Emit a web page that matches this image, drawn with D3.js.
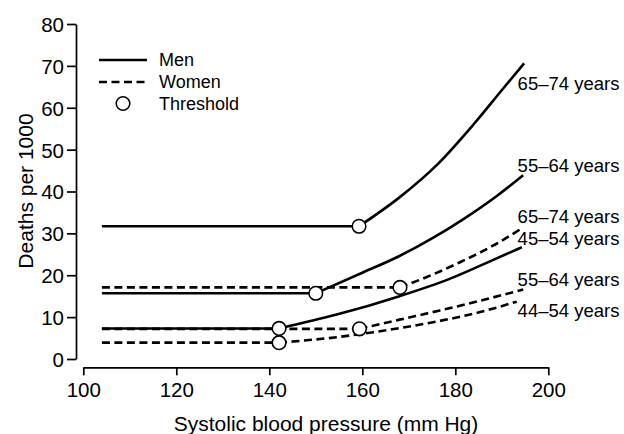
<!DOCTYPE html>
<html>
<head>
<meta charset="utf-8">
<script src="https://cdn.jsdelivr.net/npm/d3@7"></script>
<style>
  body { margin: 0; background: #fff; }
  svg { display: block; font-family: "Liberation Sans", Arial, sans-serif; }
  .axis path, .axis line { stroke: #000; stroke-width: 1.7; }
  .axis text { fill: #000; font-size: 20.5px; }
  .label { font-size: 18.5px; fill: #000; }
  .legend-text { font-size: 18px; fill: #000; }
</style>
</head>
<body>
<svg id="chart" width="624" height="434"></svg>
<script>
// ---- data ----
const xTicks = [100, 120, 140, 160, 180, 200];
const yTicks = [0, 10, 20, 30, 40, 50, 60, 70, 80];
const startBP = 104;

// curves: first point is the threshold, line is flat before it
const men6574 = [[159.3, 31.7], [168.0, 38.6], [176.0, 46.3], [183.9, 56.0], [190.3, 64.6], [194.8, 70.6]];
const men5564 = [[150.0, 15.7], [160.0, 20.6], [168.0, 24.6], [175.0, 28.8], [182.0, 33.6], [189.0, 39.0], [194.6, 43.9]];
const men4554 = [[142.1, 7.3], [154.5, 10.6], [168.0, 15.0], [178.9, 19.2], [186.0, 22.6], [194.3, 26.7]];
const women6574 = [[168.1, 17.1], [175.0, 20.1], [181.0, 23.1], [188.0, 27.0], [194.3, 31.2]];
const women5564 = [[159.4, 7.2], [168.0, 9.4], [176.7, 11.6], [185.3, 13.9], [194.6, 16.6]];
const women4554 = [[142.1, 3.9], [155.2, 5.3], [162.4, 6.4], [176.7, 9.1], [185.3, 11.2], [193.2, 13.7]];

const seriesNames = ["65–74 years", "55–64 years", "45–54 years", "65–74 years", "55–64 years", "44–54 years"];
const seriesSex = ["men", "men", "men", "women", "women", "women"];
const seriesPoints = [men6574, men5564, men4554, women6574, women5564, women4554];
const labelValues = [64.2, 44.7, 27.2, 32.4, 17.4, 10.1]; // where the end labels sit (deaths)
const labelBP = 193.4;

const legendNames = ["Men", "Women", "Threshold"];

// ---- scales ----
const svg = d3.select("#chart");
const x = d3.scaleLinear().domain([100, 200]).range([83.3, 548.3]);
const y = d3.scaleLinear().domain([0, 80]).range([359, 24]);

// axes
svg.append("g")
  .attr("class", "axis")
  .attr("transform", "translate(76,0)")
  .call(d3.axisLeft(y).tickValues(yTicks).tickSize(9).tickSizeOuter(0).tickPadding(3))
  .call(g => g.selectAll("text").attr("dy", "0.36em"));

svg.append("g")
  .attr("class", "axis")
  .attr("transform", "translate(0,367.3)")
  .call(d3.axisBottom(x).tickValues(xTicks).tickSize(8).tickSizeOuter(0).tickPadding(7));

svg.selectAll(".axis .domain").attr("fill", "none");

// axis titles
svg.append("text")
  .attr("x", 326)
  .attr("y", 431)
  .attr("text-anchor", "middle")
  .attr("font-size", 21)
  .text("Systolic blood pressure (mm Hg)");

svg.append("text")
  .attr("transform", "translate(32.5,191) rotate(-90)")
  .attr("text-anchor", "middle")
  .attr("font-size", 21)
  .text("Deaths per 1000");

// lines
const flatLine = d3.line().x(d => x(d[0])).y(d => y(d[1]));
const curveLine = d3.line()
  .x(d => x(d[0]))
  .y(d => y(d[1]))
  .curve(d3.curveMonotoneX);

const dash = "8,4.5";

seriesPoints.forEach((pts, i) => {
  const thr = pts[0];
  const g = svg.append("g");
  const style = sel => sel
    .attr("fill", "none")
    .attr("stroke", "#000")
    .attr("stroke-width", 2.6)
    .attr("stroke-dasharray", seriesSex[i] === "women" ? dash : null);

  // flat part up to threshold
  g.append("path").attr("d", flatLine([[startBP, thr[1]], thr])).call(style);
  // rising part
  g.append("path").attr("d", curveLine(pts)).call(style);
});

// threshold markers
svg.append("g")
  .selectAll("circle")
  .data(seriesPoints.map(p => p[0]))
  .join("circle")
  .attr("cx", d => x(d[0]))
  .attr("cy", d => y(d[1]))
  .attr("r", 6.8)
  .attr("fill", "#fff")
  .attr("stroke", "#000")
  .attr("stroke-width", 1.6);

// end labels
svg.append("g")
  .selectAll("text")
  .data(seriesNames)
  .join("text")
  .attr("class", "label")
  .attr("x", x(labelBP))
  .attr("y", (d, i) => y(labelValues[i]))
  .text(d => d);

// legend
const legend = svg.append("g").attr("transform", "translate(99,60)");
legendNames.forEach((name, i) => {
  const row = legend.append("g").attr("transform", `translate(0,${i * 22})`);
  if (i < 2) {
    row.append("line")
      .attr("x1", 0).attr("x2", 48)
      .attr("stroke", "#000")
      .attr("stroke-width", 2.6)
      .attr("stroke-dasharray", i === 1 ? dash : null);
  } else {
    row.append("circle")
      .attr("cx", 24).attr("cy", -0.5)
      .attr("r", 6.8)
      .attr("fill", "#fff")
      .attr("stroke", "#000")
      .attr("stroke-width", 1.6);
  }
  row.append("text")
    .attr("class", "legend-text")
    .attr("x", 60)
    .attr("y", 5.5)
    .text(name);
});
</script>
</body>
</html>
